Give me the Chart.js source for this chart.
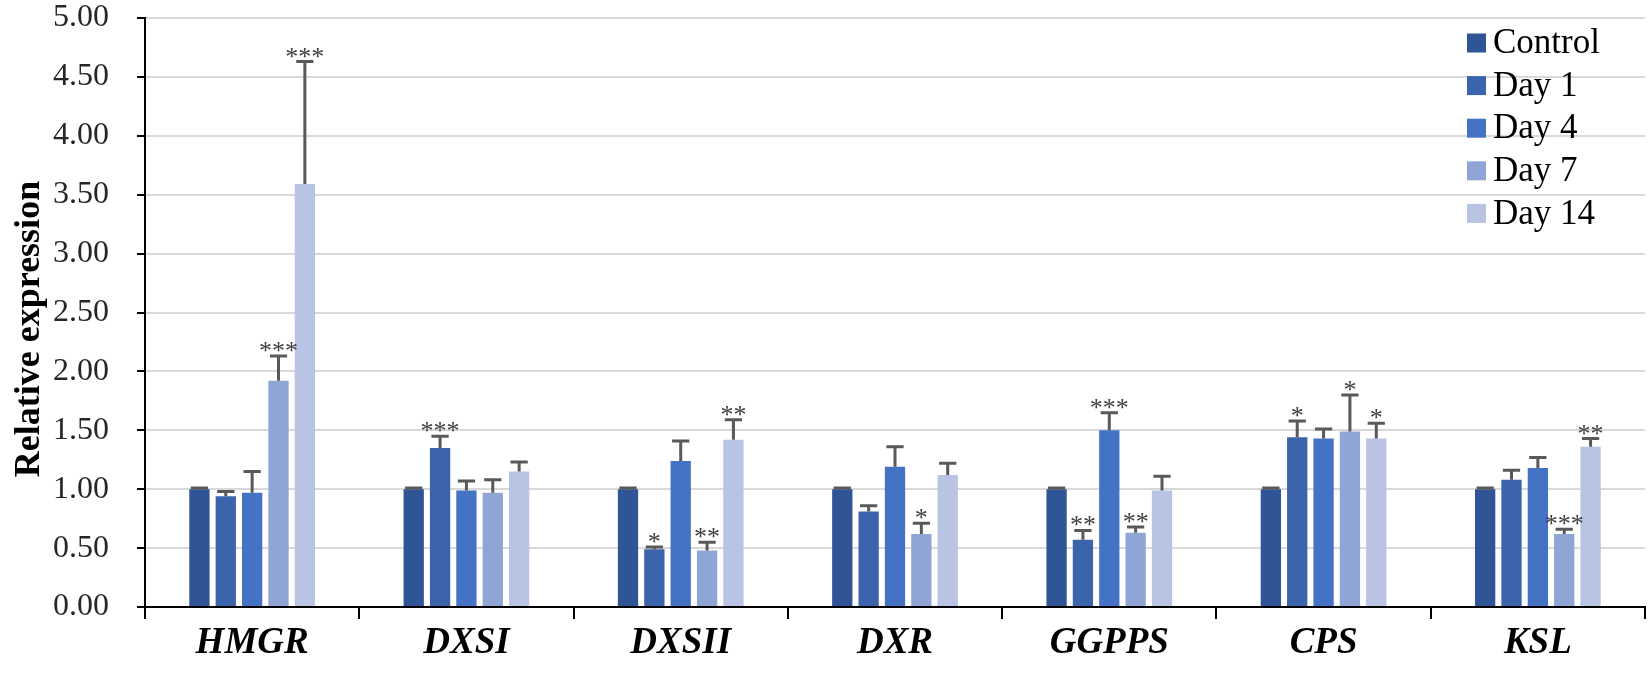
<!DOCTYPE html>
<html><head><meta charset="utf-8">
<script src="https://cdn.jsdelivr.net/npm/chart.js@4"></script>
<style>html,body{margin:0;padding:0;background:#fff}</style>
</head><body>
<canvas id="c" width="1652" height="675" style="display:block"></canvas>
<script>
const genes = ['HMGR', 'DXSI', 'DXSII', 'DXR', 'GGPPS', 'CPS', 'KSL'];
const seriesNames = ['Control', 'Day 1', 'Day 4', 'Day 7', 'Day 14'];
const seriesColors = ['#2f5597', '#3b64ad', '#4472c4', '#8fa5d5', '#b9c4e5'];
const yTitle = 'Relative expression';

const control = [1.00, 1.00, 1.00, 1.00, 1.00, 1.00, 1.00];
const day1    = [0.94, 1.35, 0.49, 0.81, 0.57, 1.44, 1.08];
const day4    = [0.97, 0.99, 1.24, 1.19, 1.50, 1.43, 1.18];
const day7    = [1.92, 0.97, 0.48, 0.62, 0.63, 1.49, 0.62];
const day14   = [3.59, 1.15, 1.42, 1.12, 0.99, 1.43, 1.36];

const controlErr = [0.01, 0.01, 0.01, 0.01, 0.01, 0.01, 0.01];
const day1Err    = [0.04, 0.10, 0.02, 0.05, 0.08, 0.14, 0.08];
const day4Err    = [0.18, 0.08, 0.17, 0.17, 0.15, 0.08, 0.09];
const day7Err    = [0.21, 0.11, 0.07, 0.09, 0.05, 0.31, 0.04];
const day14Err   = [1.04, 0.08, 0.17, 0.10, 0.12, 0.13, 0.07];

const controlSig = ['', '', '', '', '', '', ''];
const day1Sig    = ['', '***', '*', '', '**', '*', ''];
const day4Sig    = ['', '', '', '', '***', '', ''];
const day7Sig    = ['***', '', '**', '*', '**', '*', '***'];
const day14Sig   = ['***', '', '**', '', '', '*', '**'];

const yTicks = [0, 0.5, 1, 1.5, 2, 2.5, 3, 3.5, 4, 4.5, 5];

const values = [control, day1, day4, day7, day14];
const errs = [controlErr, day1Err, day4Err, day7Err, day14Err];
const sigs = [controlSig, day1Sig, day4Sig, day7Sig, day14Sig];

const errorBarPlugin = {
  id: 'errorBars',
  afterDatasetsDraw(chart) {
    const ctx = chart.ctx;
    const ys = chart.scales.y;
    chart.data.datasets.forEach((ds, i) => {
      const meta = chart.getDatasetMeta(i);
      meta.data.forEach((el, j) => {
        const v = ds.data[j];
        const e = errs[i][j];
        const yTop = ys.getPixelForValue(v + e);
        const yv = ys.getPixelForValue(v);
        const capW = el.width * 0.85;
        ctx.save();
        ctx.strokeStyle = '#595959';
        ctx.lineWidth = 3;
        ctx.beginPath();
        ctx.moveTo(el.x, yv);
        ctx.lineTo(el.x, yTop);
        ctx.moveTo(el.x - capW / 2, yTop);
        ctx.lineTo(el.x + capW / 2, yTop);
        ctx.stroke();
        const s = sigs[i][j];
        if (s) {
          ctx.fillStyle = '#404040';
          ctx.font = '26px "Liberation Serif"';
          ctx.textAlign = 'center';
          ctx.textBaseline = 'alphabetic';
          ctx.fillText(s, el.x, yTop + 3);
        }
        ctx.restore();
      });
    });
  }
};

const legendPlugin = {
  id: 'customLegend',
  afterDraw(chart) {
    const ctx = chart.ctx;
    ctx.save();
    const x0 = 1467, y0 = 43, dy = 42.6;
    ctx.font = '35px "Liberation Serif"';
    ctx.textBaseline = 'middle';
    ctx.textAlign = 'left';
    seriesNames.forEach((n, i) => {
      const y = y0 + i * dy;
      ctx.fillStyle = seriesColors[i];
      ctx.fillRect(x0, y - 9.5, 19, 19);
      ctx.fillStyle = '#000';
      ctx.fillText(n, x0 + 26, y + 1);
    });
    // y-axis title
    ctx.translate(30, 329);
    ctx.rotate(-Math.PI / 2);
    ctx.font = 'bold 36px "Liberation Serif"';
    ctx.textAlign = 'center';
    ctx.fillText(yTitle, 0, 0);
    ctx.restore();
  }
};

new Chart(document.getElementById('c'), {
  type: 'bar',
  data: {
    labels: genes,
    datasets: seriesNames.map((n, i) => ({
      label: n,
      data: values[i],
      backgroundColor: seriesColors[i],
      borderWidth: 0,
      categoryPercentage: 0.615,
      barPercentage: 0.77
    }))
  },
  options: {
    responsive: false,
    animation: false,
    devicePixelRatio: 1,
    layout: { padding: { top: 18, right: 7, left: 0, bottom: 0 } },
    plugins: { legend: { display: false }, title: { display: false }, tooltip: { enabled: false } },
    scales: {
      x: {
        afterFit(s) { s.height = 68; s.paddingLeft = 0; s.paddingRight = 0; },
        grid: { drawOnChartArea: false, offset: true, tickLength: 12, tickColor: '#000', lineWidth: 2 },
        border: { color: '#000', width: 2 },
        ticks: { color: '#000', maxRotation: 0, autoSkip: false, font: { family: 'Liberation Serif', size: 37, weight: 'bold', style: 'italic' }, padding: 2 }
      },
      y: {
        min: 0, max: 5,
        afterFit(s) { s.width = 145; s.paddingTop = 0; s.paddingBottom = 0; },
        afterBuildTicks(s) { s.ticks = yTicks.map(v => ({ value: v })); },
        grid: { color: '#d9d9d9', lineWidth: 2, tickColor: '#000', tickLength: 8 },
        border: { color: '#000', width: 2 },
        ticks: {
          color: '#262626',
          font: { family: 'Liberation Serif', size: 32 },
          padding: 28,
          callback: v => Number(v).toFixed(2)
        },
        title: { display: false }
      }
    }
  },
  plugins: [errorBarPlugin, legendPlugin]
});
</script>
</body></html>
